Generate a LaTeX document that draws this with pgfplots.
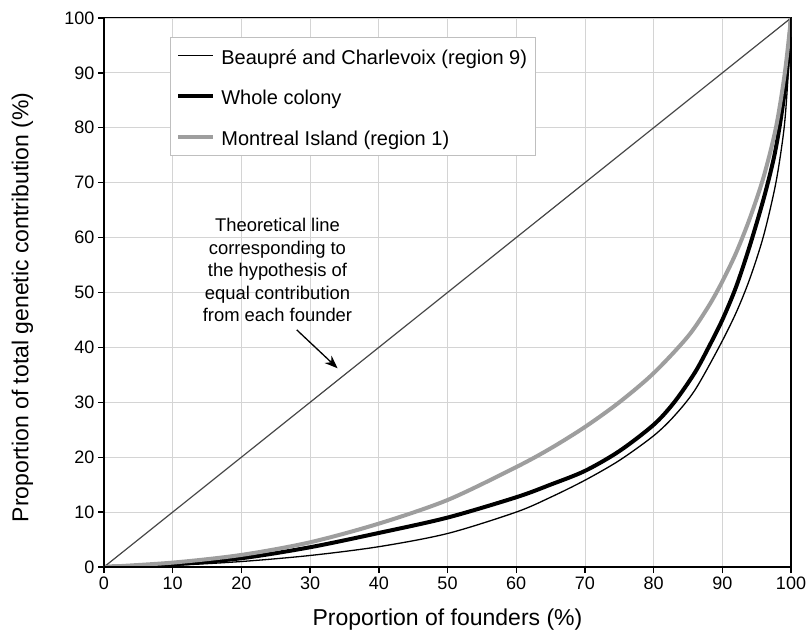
\documentclass[border=0pt]{standalone}
\usepackage{fontspec}
\setmainfont{Liberation Sans}
\usepackage{pgfplots}
\pgfplotsset{compat=1.18}
\usetikzlibrary{arrows.meta}

% fixed row height for the legend entries
\newcommand{\legstrut}{\rule[-5pt]{0pt}{23pt}\hspace{4pt}}

\begin{document}
\begin{tikzpicture}
\begin{axis}[
  scale only axis,
  width=687pt, height=549pt,
  xmin=0, xmax=100, ymin=0, ymax=100,
  xtick={0,10,...,100}, ytick={0,10,...,100},
  xtick pos=lower, ytick pos=left,
  grid=major,
  major grid style={line width=0.8pt, color=black!17},
  tick align=outside, major tick length=6pt,
  tick style={black, line width=1.4pt},
  axis line style={black, line width=1pt},
  ticklabel style={font=\fontsize{18}{20}\selectfont},
  /pgf/number format/assume math mode=true,
  xlabel={Proportion of founders (\%)},
  ylabel={Proportion of total genetic contribution (\%)},
  label style={font=\fontsize{23}{25}\selectfont},
  xlabel style={at={(rel axis cs:0.5,-0.1057)}, anchor=base},
  ylabel style={at={(rel axis cs:-0.1102,0.473)}, anchor=base, rotate=0},
  legend cell align=left,
  legend style={at={(axis cs:9.6,96.6)}, anchor=north west,
    draw=black!25, line width=0.8pt, fill=white,
    inner xsep=6pt, inner ysep=7pt, row sep=17pt,
    font=\fontsize{20}{22}\selectfont},
  legend image code/.code={\draw[#1] (0pt,0pt) -- (35pt,0pt);},
]
\coordinate (sw) at (rel axis cs:0,0);
\coordinate (ne) at (rel axis cs:1,1);

% equal-contribution reference line
\addplot[black!72, line width=1.2pt, forget plot] coordinates {(0,0) (100,100)};

% Beaupré and Charlevoix (region 9)
\addplot[black, line width=1.3pt, smooth, tension=0.5] coordinates {
  (0,0) (10,0.3) (20,1.0) (30,2.1) (40,3.7) (50,6.1) (60,10.0) (65,12.7)
  (70,15.8) (75,19.4) (80,23.9) (83,27.5) (86,32.2) (89.5,40) (92,46.3)
  (94,52.5) (96,60.3) (97.8,70) (99,80) (99.6,90) (100,100)};
\addlegendentry{\legstrut Beaupré and Charlevoix (region 9)}

% whole colony
\addplot[black, line width=4pt, smooth, tension=0.5] coordinates {
  (0,0) (10,0.5) (20,1.6) (30,3.6) (40,6.2) (50,9.0) (60,12.7) (65,15.0)
  (70,17.5) (75,21.1) (80,25.9) (83,30.0) (86,35.4) (88,40) (90,45)
  (92,51) (94,58.5) (96,67) (97.5,74.5) (98.5,81.5) (99.4,90) (100,100)};
\addlegendentry{\legstrut Whole colony}

% Montreal Island (region 1)
\addplot[black!38, line width=4pt, smooth, tension=0.5] coordinates {
  (0,0) (10,0.8) (20,2.2) (30,4.5) (40,7.9) (50,12.2) (60,18.2) (65,21.6)
  (70,25.5) (75,30) (80,35.3) (85,42) (88,47.5) (90,52) (92,57.2)
  (94,63.5) (96,71) (97.8,80) (99.1,90) (100,100)};
\addlegendentry{\legstrut Montreal Island (region 1)}

% heavier left, bottom and right axis lines
\draw[black, line width=2.8pt] (rel axis cs:0,0) -- (rel axis cs:0,1);
\draw[black, line width=2.8pt] (rel axis cs:0,0) -- (rel axis cs:1,0);
\draw[black, line width=1.6pt] (rel axis cs:1,0) -- (rel axis cs:1,1);

% annotation
\node[align=center, font=\fontsize{18.4}{22.5}\selectfont, anchor=center]
  at (axis cs:25.25,54.1)
  {Theoretical line\\corresponding to\\the hypothesis of\\equal contribution\\from each founder};
\draw[-{Stealth[length=13pt,width=10pt]}, line width=1.3pt]
  (axis cs:28.05,43.2) -- (axis cs:34.0,36.2);
\end{axis}
\pgfresetboundingbox
\path[use as bounding box] ([shift={(-104pt,-70pt)}]sw) rectangle ([shift={(17pt,18pt)}]ne);
\end{tikzpicture}
\end{document}
